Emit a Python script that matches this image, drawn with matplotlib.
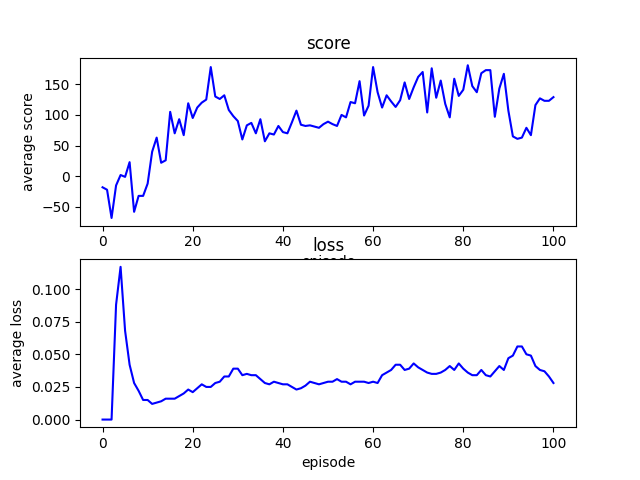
import matplotlib
matplotlib.use("Agg")
import matplotlib.pyplot as plt

episodes = list(range(101))
score = [-18,-22,-68,-15,2,-1,23,-58,-32,-32,-12,40,63,22,26,105,70,93,67,119,95,112,120,125,178,130,126,132,108,98,90,60,83,87,70,93,57,70,68,82,72,70,88,107,84,82,83,81,79,85,89,85,82,100,96,121,119,155,99,115,178,137,112,132,122,113,124,153,126,145,162,170,104,176,128,156,118,96,159,131,141,181,147,137,168,173,173,97,143,167,107,65,61,63,79,67,116,127,123,123,129]
loss = [0,0,0,0.088,0.117,0.068,0.042,0.028,0.022,0.015,0.015,0.012,0.013,0.014,0.016,0.016,0.016,0.018,0.020,0.023,0.021,0.024,0.027,0.025,0.025,0.028,0.029,0.033,0.033,0.039,0.039,0.034,0.035,0.034,0.034,0.031,0.028,0.027,0.029,0.028,0.027,0.027,0.025,0.023,0.024,0.026,0.029,0.028,0.027,0.028,0.029,0.029,0.031,0.029,0.029,0.027,0.029,0.029,0.029,0.028,0.029,0.028,0.034,0.036,0.038,0.042,0.042,0.038,0.039,0.043,0.040,0.038,0.036,0.035,0.035,0.036,0.038,0.041,0.038,0.043,0.039,0.036,0.034,0.034,0.038,0.034,0.033,0.037,0.041,0.038,0.047,0.049,0.056,0.056,0.050,0.049,0.041,0.038,0.037,0.033,0.028]

fig, (ax1, ax2) = plt.subplots(2, 1, figsize=(6.4, 4.8), dpi=100)
ax1.plot(episodes, score, color='blue')
ax1.set_title('score')
ax1.set_xlabel('episode')
ax1.set_ylabel('average score')
ax2.plot(episodes, loss, color='blue')
ax2.set_title('loss')
ax2.set_xlabel('episode')
ax2.set_ylabel('average loss')
fig.savefig('out.png')
